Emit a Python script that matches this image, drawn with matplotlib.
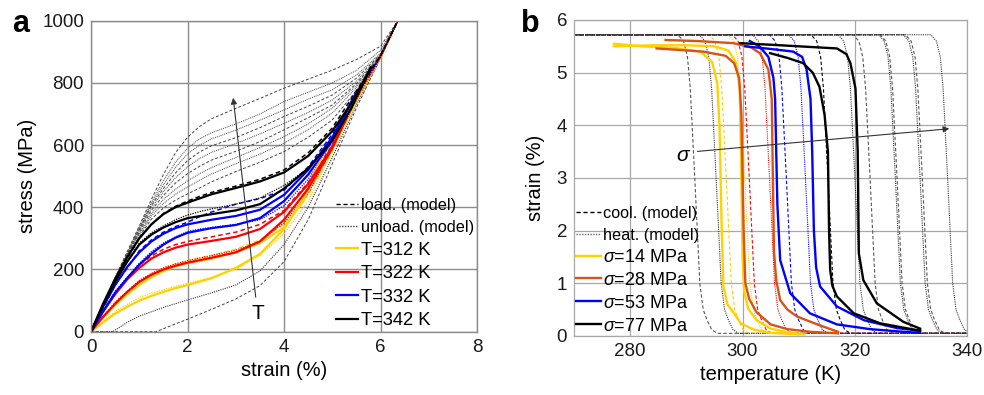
import matplotlib
matplotlib.use('Agg')
import matplotlib.pyplot as plt
import numpy as np
from matplotlib.lines import Line2D

plt.rcParams['font.family'] = ['Liberation Sans', 'DejaVu Sans']
plt.rcParams['mathtext.fontset'] = 'custom'
plt.rcParams['mathtext.it'] = 'Liberation Sans:italic'
plt.rcParams['mathtext.rm'] = 'Liberation Sans'

# ---------------- Panel a data (strain %, stress MPa) ----------------
a_labels = ['T=312 K', 'T=322 K', 'T=332 K', 'T=342 K']
a_colors = ['#FFD100', '#FF0000', '#0000FF', '#000000']

e_x_load = [0, 0.25, 0.5, 0.75, 1, 1.25, 1.5, 1.75, 2, 2.5, 3, 3.5, 4, 4.5, 5, 5.4, 5.8]
e312_load_x = [0, 0.25, 0.5, 0.75, 1, 1.25, 1.5, 1.75, 2, 2.5, 3, 3.5, 4, 4.4, 4.8]
e312_load_y = [0, 45, 85, 120, 150, 175, 195, 210, 220, 235, 255, 285, 335, 420, 570]
e312_unl_x = [4.8, 4.4, 4, 3.5, 3, 2.5, 2, 1.75, 1.5, 1.25, 1, 0.75, 0.5, 0.25, 0]
e312_unl_y = [570, 430, 330, 250, 205, 172, 150, 140, 128, 115, 100, 80, 58, 30, 0]

e322_load_x = [0, 0.25, 0.5, 0.75, 1, 1.25, 1.5, 1.75, 2, 2.5, 3, 3.5, 4, 4.5, 5, 5.3]
e322_load_y = [0, 65, 120, 168, 205, 235, 255, 270, 280, 292, 305, 330, 385, 475, 595, 690]
e322_unl_x = [5.3, 5, 4.5, 4, 3.5, 3, 2.5, 2, 1.75, 1.5, 1.25, 1, 0.75, 0.5, 0.25, 0]
e322_unl_y = [690, 590, 460, 360, 290, 255, 238, 222, 212, 200, 183, 160, 128, 90, 48, 0]

e332_load_x = [0, 0.25, 0.5, 0.75, 1, 1.25, 1.5, 1.75, 2, 2.5, 3, 3.5, 4, 4.5, 5, 5.5]
e332_load_y = [0, 80, 150, 208, 255, 290, 315, 333, 345, 360, 372, 392, 440, 520, 625, 770]
e332_unl_x = [5.5, 5, 4.5, 4, 3.5, 3, 2.5, 2, 1.75, 1.5, 1.25, 1, 0.75, 0.5, 0.25, 0]
e332_unl_y = [770, 615, 505, 420, 365, 343, 333, 318, 302, 280, 250, 215, 172, 125, 65, 0]

e342_load_x = [0, 0.25, 0.5, 0.75, 1, 1.25, 1.5, 1.75, 2, 2.5, 3, 3.5, 4, 4.5, 5, 5.4, 5.8]
e342_load_y = [0, 90, 170, 240, 300, 345, 378, 400, 415, 442, 462, 483, 512, 565, 645, 735, 850]
e342_unl_x = [5.8, 5.4, 5, 4.5, 4, 3.5, 3, 2.5, 2, 1.75, 1.5, 1.25, 1, 0.75, 0.5, 0.25, 0]
e342_unl_y = [850, 720, 615, 525, 460, 410, 390, 378, 365, 352, 335, 312, 280, 225, 160, 85, 0]

# model curves share these strain stations
m_x = [0, 0.5, 1, 1.25, 1.5, 1.75, 2, 2.25, 2.5, 3, 3.5, 4, 4.5, 5, 5.5, 6, 6.36]
m312_load = [0, 90, 160, 185, 205, 218, 228, 237, 245, 265, 295, 345, 440, 580, 740, 880, 1000]
m322_load = [0, 125, 215, 243, 265, 280, 290, 298, 305, 320, 345, 390, 480, 600, 755, 885, 1000]
m332_load = [0, 150, 260, 295, 320, 338, 352, 370, 385, 410, 428, 455, 530, 635, 765, 887, 1000]
m342_load = [0, 170, 300, 345, 380, 403, 420, 435, 448, 468, 490, 520, 575, 655, 775, 888, 1000]
m312_unl = [0, 65, 110, 124, 135, 146, 155, 165, 175, 200, 245, 315, 420, 580, 740, 880, 1000]
m322_unl = [0, 95, 165, 187, 205, 218, 228, 237, 245, 262, 290, 350, 445, 590, 745, 882, 1000]
m332_unl = [0, 130, 220, 257, 285, 305, 322, 330, 335, 345, 360, 405, 490, 610, 755, 884, 1000]
m342_unl = [0, 165, 285, 318, 340, 360, 375, 386, 395, 410, 430, 470, 525, 625, 765, 886, 1000]

# gray model curves for further temperatures
g1 = [0, 175, 340, 425, 505, 575, 625, 660, 685, 718, 750, 783, 812, 841, 875, 918, 1000]
g2 = [0, 172, 335, 415, 485, 545, 590, 620, 640, 668, 700, 740, 770, 800, 840, 905, 1000]
g3 = [0, 170, 332, 410, 472, 528, 572, 600, 620, 648, 680, 713, 748, 778, 825, 895, 1000]
g4 = [0, 170, 328, 405, 460, 510, 550, 578, 598, 624, 656, 692, 725, 761, 815, 892, 1000]
g5 = [0, 168, 325, 398, 450, 495, 530, 557, 577, 605, 636, 670, 705, 745, 805, 890, 1000]
g6 = [0, 165, 320, 390, 438, 478, 508, 532, 552, 580, 611, 649, 688, 729, 798, 888, 1000]
g7 = [0, 165, 315, 380, 425, 458, 485, 508, 528, 560, 592, 627, 668, 719, 792, 886, 1000]
g8 = [0, 162, 310, 372, 412, 442, 465, 487, 507, 540, 571, 606, 650, 703, 785, 885, 1000]
g9 = [0, 160, 305, 362, 398, 423, 443, 462, 482, 515, 545, 579, 625, 681, 775, 884, 1000]
gray_curves = [g1, g2, g3, g4, g5, g6, g7, g8, g9]
gray_styles = ['dash', 'dot', 'dot', 'dash', 'dot', 'dash', 'dot', 'dot', 'dash']

low_dot_x = [0, 0.45, 0.75, 1.0, 1.5, 2.0, 2.5, 3.0, 3.5, 4.0, 4.5, 5.0, 5.5, 6.0, 6.36]
low_dot_y = [0, 0, 30, 50, 78, 102, 125, 150, 195, 280, 400, 560, 730, 880, 1000]
low_dash_x = [0, 1.35, 1.7, 2.0, 2.5, 3.0, 3.5, 4.0, 4.5, 5.0, 5.5, 6.0, 6.36]
low_dash_y = [0, 0, 22, 40, 72, 105, 148, 225, 360, 540, 720, 880, 1000]

# ---------------- Panel b data (temperature K, strain %) ----------------
b_labels = [r'$\sigma$=14 MPa', r'$\sigma$=28 MPa', r'$\sigma$=53 MPa', r'$\sigma$=77 MPa']
b_colors = ['#FFD100', '#D95319', '#0000FF', '#000000']

b14_cool_T = [310, 305, 302, 299.7, 298.5, 297.3, 296.6, 296.3, 296.1, 295.9, 295.5, 294.6, 292.5, 288, 282, 277.1]
b14_cool_s = [0.03, 0.06, 0.12, 0.24, 0.43, 0.6, 0.95, 2.0, 3.0, 4.0, 4.8, 5.2, 5.4, 5.47, 5.5, 5.55]
b14_heat_T = [277.1, 284, 290, 295, 297.5, 298.8, 299.5, 299.8, 300.0, 300.3, 301.0, 302.5, 305, 308, 311]
b14_heat_s = [5.5, 5.52, 5.52, 5.5, 5.42, 5.2, 4.7, 3.0, 1.5, 0.85, 0.52, 0.3, 0.14, 0.07, 0.03]

b28_cool_T = [317, 312, 308, 305, 302.5, 301.2, 300.5, 300.2, 300.0, 299.8, 299.4, 298.5, 297, 293, 284.7]
b28_cool_s = [0.05, 0.08, 0.13, 0.22, 0.45, 0.7, 1.0, 2.0, 3.0, 4.2, 4.9, 5.18, 5.32, 5.4, 5.46]
b28_heat_T = [286.3, 292, 298.4, 301.5, 303.1, 304.6, 305.2, 305.4, 305.6, 306.0, 306.7, 308, 309.7, 313.8, 317]
b28_heat_s = [5.62, 5.6, 5.56, 5.48, 5.37, 5.06, 4.5, 3.0, 1.6, 1.06, 0.68, 0.5, 0.37, 0.2, 0.08]

b53_cool_T = [331.6, 328.6, 322.7, 316.8, 312.0, 308.5, 306.7, 306.2, 306.0, 305.8, 305.5, 304.6, 303, 301.3]
b53_cool_s = [0.06, 0.08, 0.13, 0.22, 0.43, 0.81, 1.44, 2.5, 3.5, 4.5, 4.9, 5.3, 5.5, 5.6]
b53_heat_T = [300.5, 305, 309.0, 310.6, 311.4, 312.1, 312.4, 312.7, 313.1, 313.8, 316.8, 321.6, 327.5, 331.6]
b53_heat_s = [5.5, 5.45, 5.4, 5.3, 5.06, 4.5, 3.5, 2.0, 1.3, 0.94, 0.56, 0.3, 0.15, 0.1]

b77_cool_T = [304.9, 308, 310.8, 312.5, 313.7, 314.6, 315.2, 315.4, 315.6, 316.0, 316.8, 319.8, 324.5, 331.6]
b77_cool_s = [5.37, 5.28, 5.18, 5.0, 4.73, 4.2, 3.5, 2.0, 1.25, 0.95, 0.75, 0.43, 0.24, 0.1]
b77_heat_T = [299.6, 305, 310, 316.8, 318.5, 319.2, 320.1, 320.5, 320.7, 321.5, 323.9, 328.6, 331.6]
b77_heat_s = [5.56, 5.53, 5.5, 5.46, 5.35, 5.18, 4.7, 3.5, 1.57, 1.06, 0.62, 0.27, 0.14]

# model transition shape and transition temperatures
shape_dT = [-3.0, -2.0, -1.3, -0.8, 0.0, 0.9, 1.5, 2.2, 3.0, 4.0]
shape_s = [5.72, 5.6, 5.3, 4.7, 3.0, 1.0, 0.5, 0.3, 0.12, 0.05]
cool_centres = [291.5, 297.1, 301.2, 307.8, 315.2, 322.7, 327.5, 332.0]
heat_centres = [295.3, 300.4, 304.8, 311.2, 320.0, 327.2, 331.6, 336.5]
cool_colors = ['#555555', '#FFD100', '#FF0000', '#0000FF', '#000000', '#555555', '#555555', '#555555']
heat_colors = ['#333333', '#FFD100', '#FF0000', '#0000FF', '#333333', '#333333', '#333333', '#333333']

# ---------------- Figure ----------------
fig = plt.figure(figsize=(9.84, 3.95), dpi=100)
axa = fig.add_axes([0.0925, 0.1603, 0.3923, 0.7873])
axb = fig.add_axes([0.5833, 0.1494, 0.3997, 0.8000])

DASH = (0, (3, 2))
DOT = (0, (1, 1))

def style(ax, gc, glw):
    ax.grid(True, color=gc, lw=glw)
    ax.set_axisbelow(True)
    for sp in ax.spines.values():
        sp.set_color(gc)
        sp.set_linewidth(glw)
    ax.tick_params(length=0, labelsize=13.5, pad=5, colors='#1a1a1a')

# ---- panel a ----
for g, st in zip(gray_curves, gray_styles):
    axa.plot(m_x, g, color='#444444', lw=0.7, ls=DASH if st == 'dash' else DOT)
axa.plot(low_dot_x, low_dot_y, color='#333333', lw=0.8, ls=DOT)
axa.plot(low_dash_x, low_dash_y, color='#444444', lw=0.7, ls=DASH)

for ml, mu, c in zip([m312_load, m322_load, m332_load, m342_load],
                     [m312_unl, m322_unl, m332_unl, m342_unl], a_colors):
    axa.plot(m_x, mu, color=c, lw=0.9, ls=DOT)
    axa.plot(m_x, ml, color=c, lw=1.1, ls=DASH)

exp_lines = []
for (lx, ly, ux, uy), c in zip([(e312_load_x, e312_load_y, e312_unl_x, e312_unl_y),
                                 (e322_load_x, e322_load_y, e322_unl_x, e322_unl_y),
                                 (e332_load_x, e332_load_y, e332_unl_x, e332_unl_y),
                                 (e342_load_x, e342_load_y, e342_unl_x, e342_unl_y)], a_colors):
    axa.plot(ux, uy, color=c, lw=1.6)
    ln, = axa.plot(lx, ly, color=c, lw=1.6)
    exp_lines.append(ln)

axa.set_xlim(0, 8)
axa.set_ylim(0, 1000)
axa.set_xticks([0, 2, 4, 6, 8])
axa.set_yticks([0, 200, 400, 600, 800, 1000])
style(axa, '#8c8c8c', 1.0)
axa.set_xlabel('strain (%)', fontsize=14.5, labelpad=4)
axa.set_ylabel('stress (MPa)', fontsize=14.5, labelpad=4)

axa.annotate('', xy=(2.94, 761), xytext=(3.42, 102),
             arrowprops=dict(arrowstyle='-|>', color='#333333', lw=0.8, mutation_scale=9))
axa.text(3.46, 59, 'T', fontsize=15, ha='center', va='center')

ha = [Line2D([], [], color='k', lw=1.0, ls=DASH),
      Line2D([], [], color='#444444', lw=1.0, ls=DOT)] + exp_lines
la = ['load. (model)', 'unload. (model)'] + a_labels
lega = axa.legend(ha, la, loc='lower left', bbox_to_anchor=(0.634, 0.008), frameon=False,
                  fontsize=13, handlelength=1.25, handletextpad=0.15, labelspacing=0.36,
                  borderpad=0, borderaxespad=0)
for i, t in enumerate(lega.get_texts()):
    t.set_fontsize(11.7 if i < 2 else 13.2)

# ---- panel b ----
for tc, c in zip(cool_centres, cool_colors):
    axb.plot([270] + [tc + d for d in shape_dT] + [340], [shape_s[0]] + shape_s + [shape_s[-1]],
             color=c, lw=0.8, ls=DASH)
for th, c in zip(heat_centres, heat_colors):
    axb.plot([270] + [th + d for d in shape_dT] + [340], [shape_s[0]] + shape_s + [shape_s[-1]],
             color=c, lw=0.8, ls=DOT)

exp_b = []
for (cT, cs, hT, hs), c in zip([(b14_cool_T, b14_cool_s, b14_heat_T, b14_heat_s),
                                (b28_cool_T, b28_cool_s, b28_heat_T, b28_heat_s),
                                (b53_cool_T, b53_cool_s, b53_heat_T, b53_heat_s),
                                (b77_cool_T, b77_cool_s, b77_heat_T, b77_heat_s)], b_colors):
    axb.plot(hT, hs, color=c, lw=1.7)
    ln, = axb.plot(cT, cs, color=c, lw=1.7)
    exp_b.append(ln)

axb.set_xlim(270, 340)
axb.set_ylim(0, 6)
axb.set_xticks([280, 300, 320, 340])
axb.set_yticks([0, 1, 2, 3, 4, 5, 6])
style(axb, '#a8a8a8', 0.9)
axb.set_xlabel('temperature (K)', fontsize=14.5, labelpad=4)
axb.set_ylabel('strain (%)', fontsize=14.5, labelpad=8)

axb.annotate('', xy=(337.3, 3.94), xytext=(291.5, 3.5),
             arrowprops=dict(arrowstyle='-|>', color='#333333', lw=0.8, mutation_scale=9))
axb.text(289.6, 3.42, r'$\sigma$', fontsize=15, ha='center', va='center')

hb = [Line2D([], [], color='k', lw=1.0, ls=DASH),
      Line2D([], [], color='#666666', lw=1.0, ls=DOT)] + exp_b
lb = ['cool. (model)', 'heat. (model)'] + b_labels
legb = axb.legend(hb, lb, loc='lower left', bbox_to_anchor=(0.006, 0.004), frameon=False,
                  fontsize=13, handlelength=1.35, handletextpad=0.1, labelspacing=0.33,
                  borderpad=0, borderaxespad=0)
for i, t in enumerate(legb.get_texts()):
    t.set_fontsize(11.7 if i < 2 else 13)

fig.text(0.012, 0.918, 'a', fontsize=22, fontweight='bold', va='baseline')
fig.text(0.529, 0.918, 'b', fontsize=22, fontweight='bold', va='baseline')

fig.savefig('out.png', dpi=100)
